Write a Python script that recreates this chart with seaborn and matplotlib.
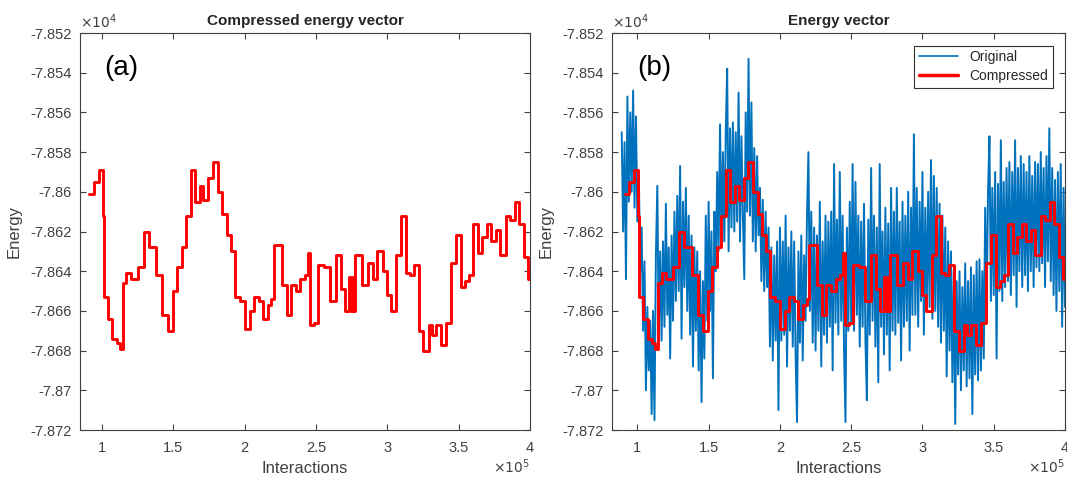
import numpy as np
import pandas as pd
import matplotlib
matplotlib.use("Agg")
import matplotlib.pyplot as plt
from matplotlib.ticker import FuncFormatter
import seaborn as sns

# compressed energy vector (step values), interactions where each step starts
comp_iter = [91100, 94000, 97600, 100500, 101400, 103900, 107200, 110400, 112300, 114700,
             117100, 120300, 124900, 129400, 132800, 138100, 142200, 146100, 149500, 152600,
             155800, 158700, 162300, 165200, 168300, 171000, 174500, 177700, 181200, 184300,
             187400, 190300, 193200, 196900, 200200, 203400, 206600, 210100, 213000, 216200,
             218700, 220300, 226200, 229300, 232400, 235700, 239000, 242000, 244100, 245700,
             248400, 251500, 255300, 260000, 263700, 267500, 270100, 273100, 274700, 275900,
             276700, 277500, 282200, 286500, 289800, 292900, 296600, 299800, 302800, 306400,
             309600, 313300, 316000, 318900, 322000, 325300, 328900, 331300, 334300, 337800,
             341300, 344800, 348300, 351900, 354200, 357200, 360000, 363500, 366600, 369800,
             372900, 375900, 378700, 382900, 385700, 389200, 392200, 395700, 398500, 400000]
comp_energy = [-78601, -78595, -78589, -78612, -78653, -78664, -78674, -78676, -78679, -78646,
               -78641, -78644, -78638, -78620, -78628, -78642, -78662, -78670, -78650, -78638,
               -78628, -78612, -78589, -78605, -78597, -78604, -78593, -78585, -78600, -78611,
               -78622, -78630, -78653, -78655, -78669, -78660, -78653, -78655, -78664, -78657,
               -78654, -78627, -78647, -78662, -78647, -78650, -78644, -78642, -78631, -78667,
               -78666, -78637, -78638, -78655, -78632, -78649, -78660, -78643, -78660, -78643,
               -78660, -78632, -78647, -78636, -78644, -78630, -78640, -78652, -78660, -78632,
               -78612, -78641, -78642, -78637, -78670, -78680, -78667, -78672, -78667, -78677,
               -78666, -78636, -78622, -78648, -78645, -78642, -78616, -78631, -78623, -78616,
               -78625, -78619, -78632, -78612, -78614, -78605, -78616, -78633, -78644, -78644]

# original energy vector, one sample every 1000 interactions from 89000
orig_energy = [
    -78570, -78620, -78575,
    -78644, -78552, -78605, -78560, -78600, -78549, -78608,
    -78562, -78615,
    -78590, -78640, -78618, -78670, -78635,
    -78700, -78658, -78690, -78665, -78712, -78660, -78715,
    -78632, -78597, -78672, -78630, -78675,
    -78625, -78668, -78606, -78662, -78628, -78684, -78622, -78665, -78610,
    -78655, -78602, -78650, -78587, -78674, -78605, -78648, -78598, -78660,
    -78612, -78672, -78622, -78688, -78628, -78670, -78630,
    -78690, -78640, -78706, -78645, -78684,
    -78612, -78665, -78605, -78660, -78620, -78694, -78610,
    -78640, -78590, -78630, -78566, -78628, -78580, -78625, -78570,
    -78538, -78630, -78568, -78618,
    -78565, -78620, -78570, -78615, -78550, -78625, -78572, -78612, -78644,
    -78560, -78610, -78533, -78612, -78555,
    -78625, -78578, -78630, -78582, -78622,
    -78598, -78645, -78604, -78650, -78610, -78648, -78618,
    -78678, -78628, -78685, -78632, -78675, -78625, -78710,
    -78618, -78675, -78625, -78672, -78612, -78688, -78628, -78670, -78620,
    -78678, -78625, -78682, -78716, -78630, -78676, -78622, -78685, -78632,
    -78665, -78612, -78580, -78660, -78610,
    -78676, -78618, -78680, -78622, -78670, -78605, -78688, -78625, -78672,
    -78612, -78676, -78615, -78668, -78610, -78690, -78586, -78666, -78614, -78672,
    -78590, -78665, -78612, -78680, -78716, -78618, -78670, -78605, -78666, -78586,
    -78670, -78595, -78662, -78612, -78678, -78615, -78668, -78606, -78675, -78705,
    -78614, -78672, -78588, -78665,
    -78612, -78678, -78618, -78696, -78586, -78668, -78620, -78682, -78608, -78672,
    -78616, -78690, -78598, -78670,
    -78610, -78672, -78598, -78666, -78615, -78685, -78605, -78668, -78612, -78665,
    -78600, -78680, -78608, -78662,
    -78571,
    -78662, -78598, -78668, -78605, -78655, -78590, -78672, -78608, -78660, -78600,
    -78658, -78584, -78664,
    -78592, -78660, -78598, -78668, -78606, -78676, -78612, -78670, -78618, -78693,
    -78625, -78680,
    -78630, -78696, -78640, -78717, -78645, -78692, -78640, -78700, -78648, -78690,
    -78636, -78698, -78645, -78694, -78638, -78712, -78642, -78692, -78635,
    -78695, -78634, -78690, -78640, -78684,
    -78608, -78660, -78600, -78572, -78655,
    -78598, -78652, -78590, -78684, -78596, -78650, -78574, -78655, -78595, -78648, -78588,
    -78645, -78585, -78652, -78590, -78642, -78574, -78658, -78588, -78640, -78582,
    -78648, -78586,
    -78642, -78590, -78650, -78582, -78640, -78592, -78648, -78585, -78638,
    -78586, -78640, -78580, -78636, -78588, -78648, -78582, -78635, -78568, -78645,
    -78588, -78652, -78594, -78660, -78590, -78650, -78586, -78668, -78598, -78658,
]
orig_iter = 89000 + 1000 * np.arange(len(orig_energy))

df_comp = pd.DataFrame({"x": np.array(comp_iter) / 1e5, "y": np.array(comp_energy) / 1e4})
df_orig = pd.DataFrame({"x": orig_iter / 1e5, "y": np.array(orig_energy) / 1e4})

sns.set_style("ticks")
plt.rcParams["font.family"] = ["Liberation Sans", "DejaVu Sans"]

grey = "#404040"
W, H = 1067, 479
fig = plt.figure(figsize=(W / 100, H / 100), dpi=100)
ax1 = fig.add_axes([80 / W, (H - 430) / H, 450 / W, 397 / H])
ax2 = fig.add_axes([612 / W, (H - 430) / H, 453 / W, 397 / H])

sns.lineplot(data=df_orig, x="x", y="y", ax=ax2, color="#0072BD", lw=1.4,
             estimator=None, label="Original")
for ax in (ax1, ax2):
    sns.lineplot(data=df_comp, x="x", y="y", ax=ax, color="#FF0000", lw=2.1,
                 drawstyle="steps-post", estimator=None,
                 label="Compressed" if ax is ax2 else None)

fmt = FuncFormatter(lambda v, p: "%g" % round(v, 4))
for ax, xmin, title, tag in ((ax1, 0.845, "Compressed energy vector", "(a)"),
                             (ax2, 0.822, "Energy vector", "(b)")):
    ax.set_xlim(xmin, 4)
    ax.set_ylim(-7.872, -7.852)
    ax.set_xticks([1, 1.5, 2, 2.5, 3, 3.5, 4])
    ax.set_yticks(np.arange(-7.872, -7.8519, 0.002))
    ax.xaxis.set_major_formatter(fmt)
    ax.yaxis.set_major_formatter(fmt)
    ax.tick_params(direction="in", top=True, right=True, length=4, width=0.8,
                   labelsize=10.5, colors=grey)
    ax.tick_params(axis="x", pad=8)
    ax.tick_params(axis="y", pad=6)
    for s in ax.spines.values():
        s.set_color(grey)
        s.set_linewidth(0.8)
    ax.set_title(title, fontsize=11, fontweight="bold", pad=6)
    ax.set_xlabel("Interactions", fontsize=12, color=grey, labelpad=4)
    ax.set_ylabel("Energy", fontsize=12, color=grey, labelpad=6)
    ax.text(0.0, 1.005, r"$\times10^{4}$", transform=ax.transAxes, fontsize=10,
            color=grey, ha="left", va="bottom")
    ax.text(1.0, -0.093, r"$\times10^{5}$", transform=ax.transAxes, fontsize=10,
            color=grey, ha="right", va="center")
    ax.text(0.055, 0.945, tag, transform=ax.transAxes, fontsize=20, va="top",
            color="black")

leg = ax2.legend(loc="upper right", fontsize=10, frameon=True, fancybox=False,
                 edgecolor="#333333", framealpha=1, borderaxespad=0.9,
                 handlelength=2.8, labelspacing=0.35, borderpad=0.35)
leg.get_frame().set_linewidth(0.8)
for line in leg.get_lines():
    line.set_linewidth(1.2 if line.get_color() == "#0072BD" else 2.5)

fig.savefig("out.png", dpi=100)
